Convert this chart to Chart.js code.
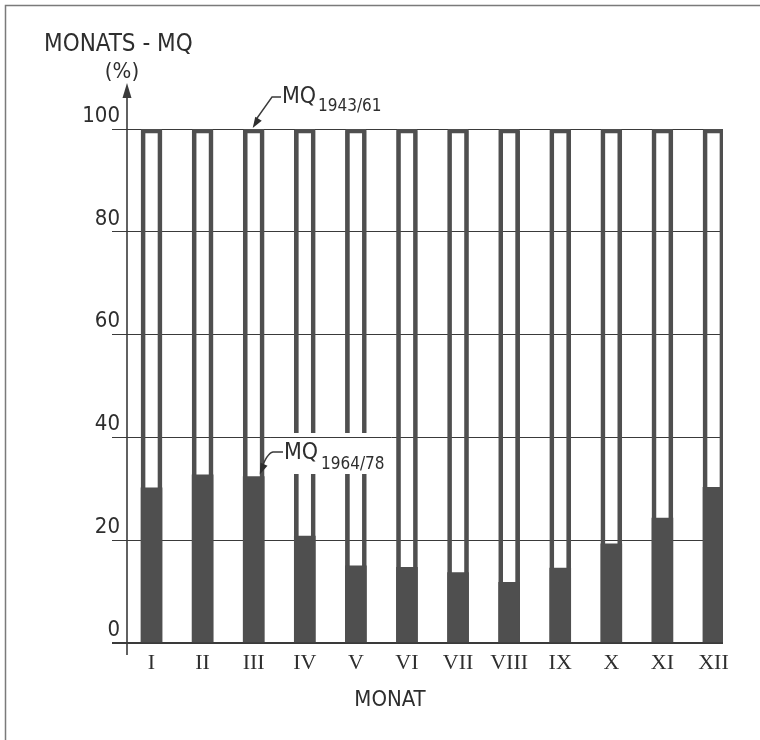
<!DOCTYPE html>
<html>
<head>
<meta charset="utf-8">
<script src="https://cdn.jsdelivr.net/npm/chart.js@4/dist/chart.umd.min.js"></script>
<style>
  html, body { margin: 0; padding: 0; background: #ffffff; }
  #wrap { position: absolute; left: 0; top: 0; width: 760px; height: 740px; }
</style>
</head>
<body>
<div id="wrap"><canvas id="c" width="760" height="740"></canvas></div>
<script>
// Monthly mean discharge (MQ) of 1964/78 as percent of the 1943/61 reference
const months = ['I', 'II', 'III', 'IV', 'V', 'VI', 'VII', 'VIII', 'IX', 'X', 'XI', 'XII'];
const mq1943 = [100, 100, 100, 100, 100, 100, 100, 100, 100, 100, 100, 100];
const mq1964 = [30.2, 32.7, 32.4, 20.8, 15.0, 14.7, 13.7, 11.8, 14.6, 19.3, 24.3, 30.3];
const yTicks = [0, 20, 40, 60, 80, 100];

const INK = '#4f4f4f';
const LINE = '#3a3a3a';
const TEXT = '#2e2e2e';
const FONT = "'Liberation Sans Narrow', 'DejaVu Sans Condensed', sans-serif";

const toPoints = arr => arr.map((v, i) => ({ x: i, y: v }));

// Frame, y-axis arrow, leader lines and annotation labels
const decor = {
  id: 'decor',
  beforeDraw(chart) {
    const ctx = chart.ctx;
    ctx.save();
    ctx.strokeStyle = '#7a7a7a';
    ctx.lineWidth = 1.5;
    ctx.beginPath();
    ctx.moveTo(5.5, 740);
    ctx.lineTo(5.5, 5.5);
    ctx.lineTo(760, 5.5);
    ctx.stroke();
    ctx.restore();
  },
  afterDatasetsDraw(chart) {
    const ctx = chart.ctx;
    const xs = chart.scales.x, ys = chart.scales.y;
    const ax = chart.chartArea.left;
    ctx.save();

    // clear band behind the 1964/78 label
    const gTop = 433, gBot = 474;
    const gL = xs.getPixelForValue(2.32), gR = xs.getPixelForValue(4.7);
    ctx.fillStyle = '#ffffff';
    ctx.fillRect(gL, gTop, gR - gL, gBot - gTop);
    const y40 = Math.round(ys.getPixelForValue(40)) + 0.5;
    ctx.strokeStyle = LINE;
    ctx.lineWidth = 1;
    ctx.beginPath();
    ctx.moveTo(gL, y40);
    ctx.lineTo(gR, y40);
    ctx.stroke();

    // y axis with arrow
    ctx.strokeStyle = LINE;
    ctx.lineWidth = 1.6;
    ctx.beginPath();
    ctx.moveTo(ax, 95);
    ctx.lineTo(ax, 655);
    ctx.stroke();
    ctx.fillStyle = LINE;
    ctx.beginPath();
    ctx.moveTo(ax, 83);
    ctx.lineTo(ax - 4.5, 98);
    ctx.lineTo(ax + 4.5, 98);
    ctx.closePath();
    ctx.fill();

    // axis title
    ctx.fillStyle = TEXT;
    ctx.textBaseline = 'middle';
    ctx.textAlign = 'left';
    ctx.font = '24px ' + FONT;
    ctx.fillText('MONATS - MQ', 44, 45);
    ctx.textAlign = 'center';
    ctx.font = '22px ' + FONT;
    ctx.fillText('(%)', 122, 72);

    // leader: MQ 1943/61 -> top of bar III
    const tip1x = xs.getPixelForValue(2) - 1, tip1y = ys.getPixelForValue(100) - 1;
    ctx.lineWidth = 1.4;
    ctx.beginPath();
    ctx.moveTo(281, 97);
    ctx.lineTo(272, 97);
    ctx.lineTo(tip1x + 3, tip1y - 8);
    ctx.stroke();
    arrowHead(ctx, 272, 97, tip1x, tip1y);

    // leader: MQ 1964/78 -> top of III fill
    const tip2x = xs.getPixelForValue(2) + 6, tip2y = ys.getPixelForValue(mq1964[2]) - 2;
    ctx.beginPath();
    ctx.moveTo(283, 452);
    ctx.lineTo(273, 452);
    ctx.quadraticCurveTo(267, 453, tip2x + 1, tip2y - 4);
    ctx.stroke();
    arrowHead(ctx, 268, 455, tip2x, tip2y);

    // annotation texts
    ctx.fillStyle = TEXT;
    ctx.textAlign = 'left';
    ctx.textBaseline = 'alphabetic';
    ctx.font = '23px ' + FONT;
    ctx.fillText('MQ', 282, 103);
    ctx.font = '17px ' + FONT;
    ctx.fillText('1943/61', 318, 111);
    ctx.font = '23px ' + FONT;
    ctx.fillText('MQ', 284, 459);
    ctx.font = '17px ' + FONT;
    ctx.fillText('1964/78', 321, 469);

    // x axis title
    ctx.textAlign = 'center';
    ctx.textBaseline = 'middle';
    ctx.font = '22px ' + FONT;
    ctx.fillText('MONAT', 390, 700);
    ctx.restore();
  }
};

function arrowHead(ctx, fx, fy, tx, ty) {
  const a = Math.atan2(ty - fy, tx - fx);
  const len = 11, w = 3.8;
  ctx.beginPath();
  ctx.moveTo(tx, ty);
  ctx.lineTo(tx - len * Math.cos(a) + w * Math.sin(a), ty - len * Math.sin(a) - w * Math.cos(a));
  ctx.lineTo(tx - len * Math.cos(a) - w * Math.sin(a), ty - len * Math.sin(a) + w * Math.cos(a));
  ctx.closePath();
  ctx.fill();
}

new Chart(document.getElementById('c'), {
  type: 'bar',
  data: {
    datasets: [
      {
        label: 'MQ 1964/78',
        data: toPoints(mq1964),
        backgroundColor: INK,
        borderWidth: 0,
        barThickness: 21,
        grouped: false,
        order: 0
      },
      {
        label: 'MQ 1943/61',
        data: toPoints(mq1943),
        backgroundColor: 'rgba(0,0,0,0)',
        borderColor: INK,
        borderWidth: 4,
        borderRadius: 2,
        barThickness: 21,
        grouped: false,
        order: 1
      }
    ]
  },
  options: {
    responsive: false,
    animation: false,
    devicePixelRatio: 1,
    layout: { padding: { top: 129, right: 37, left: 0, bottom: 0 } },
    plugins: { legend: { display: false }, tooltip: { enabled: false }, title: { display: false } },
    scales: {
      x: {
        type: 'linear',
        offset: false,
        min: -0.48,
        max: 11.186,
        afterFit(s) { s.height = 97; },
        afterBuildTicks(s) { s.ticks = months.map((m, i) => ({ value: i })); },
        grid: { display: false, drawTicks: false, offset: false },
        border: { display: false },
        ticks: {
          autoSkip: false,
          maxRotation: 0,
          padding: 7,
          color: TEXT,
          font: { family: "'Liberation Serif', serif", size: 22 },
          callback: v => months[v]
        }
      },
      y: {
        min: 0,
        max: 100,
        afterFit(s) { s.width = 127; },
        afterBuildTicks(s) { s.ticks = yTicks.map(v => ({ value: v })); },
        grid: {
          color: LINE,
          tickColor: LINE,
          lineWidth: c => (c.tick && c.tick.value === 0 ? 2 : 1),
          drawTicks: true,
          tickLength: 15
        },
        border: { display: false },
        ticks: {
          padding: -8,
          labelOffset: -13,
          color: TEXT,
          font: { family: FONT, size: 22 }
        }
      }
    }
  },
  plugins: [decor]
});
</script>
</body>
</html>
